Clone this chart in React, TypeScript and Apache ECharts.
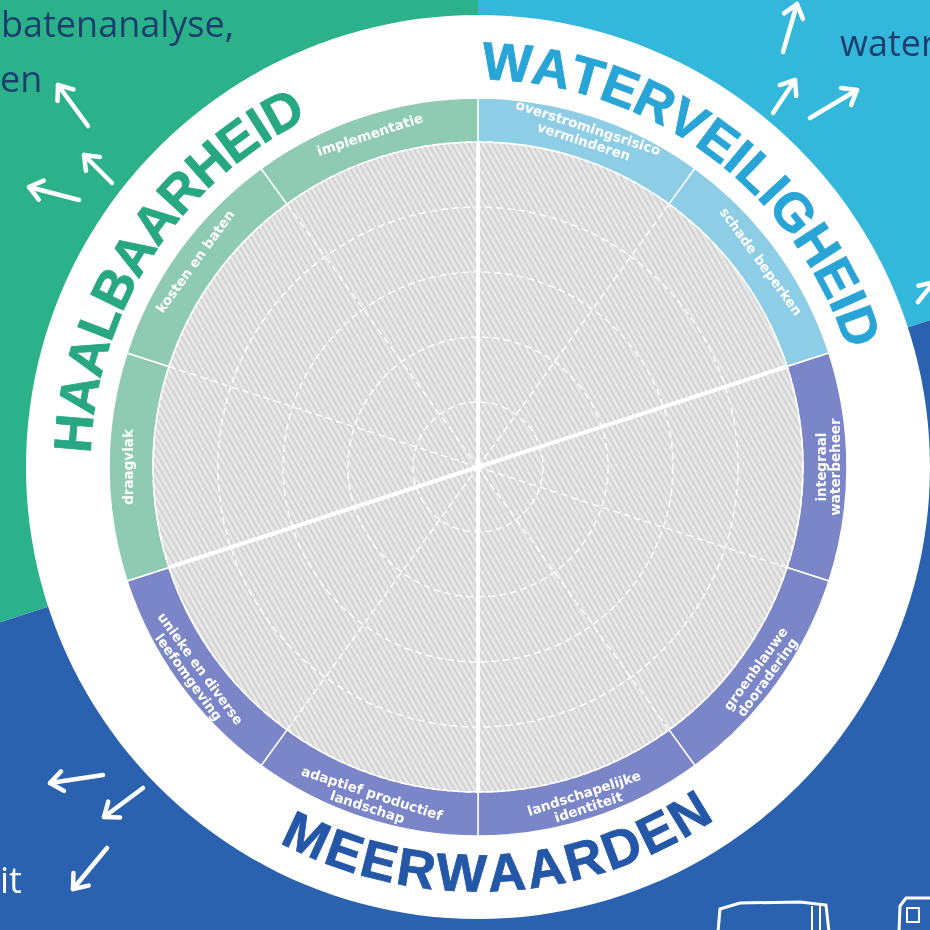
import React, { useEffect, useRef } from 'react';
import * as echarts from 'echarts';

// ---------- data ----------
const themeNames = ['Waterveiligheid', 'Meerwaarden', 'Haalbaarheid'];
const themeSegmentCounts = [2, 5, 3];
const themeTitles = ['WATERVEILIGHEID', 'MEERWAARDEN', 'HAALBAARHEID'];

const segmentLabels = [
  'overstromingsrisico\nverminderen',
  'schade beperken',
  'integraal\nwaterbeheer',
  'groenblauwe\ndooradering',
  'landschapelijke\nidentiteit',
  'adaptief productief\nlandschap',
  'unieke en diverse\nleefomgeving',
  'draagvlak',
  'kosten en baten',
  'implementatie',
];
const segmentThemes = [0, 0, 1, 1, 1, 1, 1, 2, 2, 2];
const segmentValues = [1, 1, 1, 1, 1, 1, 1, 1, 1, 1];
const gridMax = 5;

const sideTexts = ['batenanalyse,', 'en', 'water', 'it'];

// ---------- layout / style ----------
const CX = 478;
const CY = 467;
const R_WHITE = 452;
const R_RING_IN = 325;
const R_RING_OUT = 369;
const bgColors = ['#33b8dc', '#2a62b0', '#2cb28a'];
const ringColors = ['#8dcde6', '#7a86c7', '#8fcab2'];
const titleColors = ['#28a5d6', '#2457a8', '#27a883'];
const titleMidAngles = [53.5, -87, 147];
const titleRadius = 406;
const titleFontSize = 53;

const arrows = [
  [58, 85, 88, 126],
  [84, 155, 112, 183],
  [29, 187, 79, 200],
  [797, 4, 783, 52],
  [795, 80, 773, 113],
  [857, 90, 810, 118],
  [934, 282, 918, 302],
  [50, 783, 103, 775],
  [104, 817, 143, 788],
  [73, 889, 107, 848],
];

function arcTitle(text: string, midDeg: number, r: number, color: string, outward: boolean) {
  const canvas = document.createElement('canvas');
  const ctx = canvas.getContext('2d')!;
  ctx.font = `bold ${titleFontSize}px "Liberation Sans"`;
  const spacing = 1;
  const chars = Array.from(text);
  const widths = chars.map((c) => ctx.measureText(c).width + spacing);
  const total = widths.reduce((a, b) => a + b, 0);
  const totalAng = total / r;
  const mid = (midDeg * Math.PI) / 180;
  let acc = 0;
  return chars.map((ch, i) => {
    const center = acc + widths[i] / 2;
    acc += widths[i];
    const off = center / r - totalAng / 2;
    const phi = outward ? mid - off : mid + off;
    const x = CX + r * Math.cos(phi);
    const y = CY - r * Math.sin(phi);
    const rot = outward ? phi - Math.PI / 2 : phi + Math.PI / 2;
    return {
      type: 'text',
      x,
      y,
      rotation: rot,
      z: 20,
      silent: true,
      style: {
        text: ch,
        fill: color,
        stroke: color,
        lineWidth: 0.8,
        fontSize: titleFontSize,
        fontWeight: 'bold',
        fontFamily: '"Liberation Sans", Arial, sans-serif',
        align: 'center',
        verticalAlign: 'middle',
      },
    };
  });
}

function arrowEls(a: number[]) {
  const [tx, ty, sx, sy] = a;
  const dx = tx - sx;
  const dy = ty - sy;
  const len = Math.hypot(dx, dy);
  const ux = dx / len;
  const uy = dy / len;
  const head = 16;
  const ang = (38 * Math.PI) / 180;
  const rotv = (t: number) => [ux * Math.cos(t) - uy * Math.sin(t), ux * Math.sin(t) + uy * Math.cos(t)];
  const [ax, ay] = rotv(ang);
  const [bx, by] = rotv(-ang);
  const st = { stroke: '#ffffff', lineWidth: 4.5, lineCap: 'round', lineJoin: 'round', fill: null };
  return [
    { type: 'line', z: 20, silent: true, shape: { x1: sx, y1: sy, x2: tx, y2: ty }, style: st },
    {
      type: 'polyline',
      z: 20,
      silent: true,
      shape: { points: [[tx - ax * head, ty - ay * head], [tx, ty], [tx - bx * head, ty - by * head]] },
      style: st,
    },
  ];
}

export default function App() {
  const ref = useRef<HTMLDivElement>(null);

  useEffect(() => {
    if (!ref.current) return;
    const chart = echarts.init(ref.current, undefined, { renderer: 'svg' });

    const segAngle = 360 / segmentValues.length;
    const ringData = segmentLabels.map((name, i) => {
      const phi = 90 - segAngle * (i + 0.5);
      let rot = segmentThemes[i] === 1 ? phi + 90 : phi - 90;
      while (rot > 180) rot -= 360;
      while (rot <= -180) rot += 360;
      return {
        name,
        value: segmentValues[i],
        itemStyle: { color: ringColors[segmentThemes[i]] },
        label: { rotate: rot },
      };
    });

    // theme boundaries in angle-axis units (clockwise from top)
    const bounds: number[] = [0];
    themeSegmentCounts.forEach((c, i) => bounds.push(bounds[i] + c * segAngle));
    const rOut = R_RING_OUT / (R_RING_IN / gridMax);
    const dividerLines = [
      [[rOut, bounds[0]], [0, 0], [gridMax, bounds[0] + 180]],
      [[rOut, bounds[1]], [0, 0], [rOut, bounds[1] + 180]],
    ];

    const textStyleBase = {
      fontFamily: '"Open Sans", "Noto Sans", sans-serif',
      fontSize: 36,
    };

    const graphics: any[] = [
      { type: 'text', x: 1, y: 5, z: 20, silent: true, style: { ...textStyleBase, text: sideTexts[0], fill: '#1c3f6e', verticalAlign: 'top' } },
      { type: 'text', x: 0, y: 60, z: 20, silent: true, style: { ...textStyleBase, text: sideTexts[1], fill: '#1c3f6e', verticalAlign: 'top' } },
      { type: 'text', x: 840, y: 24, z: 20, silent: true, style: { ...textStyleBase, text: sideTexts[2], fill: '#1c3f6e', verticalAlign: 'top' } },
      { type: 'text', x: 0, y: 861, z: 20, silent: true, style: { ...textStyleBase, text: sideTexts[3], fill: '#ffffff', verticalAlign: 'top' } },
      ...arrows.flatMap(arrowEls),
      {
        type: 'polyline',
        z: 20,
        silent: true,
        shape: { points: [[718, 932], [720, 909], [740, 903], [800, 902], [826, 905], [829, 932]] },
        style: { stroke: '#fff', lineWidth: 3, fill: null },
      },
      { type: 'line', z: 20, silent: true, shape: { x1: 812, y1: 906, x2: 812, y2: 932 }, style: { stroke: '#fff', lineWidth: 2 } },
      { type: 'line', z: 20, silent: true, shape: { x1: 820, y1: 906, x2: 820, y2: 932 }, style: { stroke: '#fff', lineWidth: 2 } },
      {
        type: 'polyline',
        z: 20,
        silent: true,
        shape: { points: [[899, 932], [900, 906], [906, 898], [932, 898]] },
        style: { stroke: '#fff', lineWidth: 3, fill: null },
      },
      { type: 'rect', z: 20, silent: true, shape: { x: 907, y: 908, width: 12, height: 14 }, style: { stroke: '#fff', lineWidth: 2, fill: null } },
    ];
    themeTitles.forEach((t, i) => {
      graphics.push(...arcTitle(t, titleMidAngles[i], titleRadius, titleColors[i], i !== 1));
    });

    const gridLine = { show: true, lineStyle: { color: 'rgba(255,255,255,0.9)', width: 1.5, type: [7, 4] } };

    const option: any = {
      animation: false,
      polar: { center: [CX, CY], radius: R_RING_IN },
      angleAxis: {
        type: 'value',
        min: 0,
        max: 360,
        interval: segAngle,
        startAngle: 90,
        clockwise: true,
        axisLine: { show: false },
        axisTick: { show: false },
        axisLabel: { show: false },
        splitLine: gridLine,
        z: 5,
      },
      radiusAxis: {
        type: 'value',
        min: 0,
        max: gridMax,
        interval: 1,
        axisLine: { show: false },
        axisTick: { show: false },
        axisLabel: { show: false },
        splitLine: gridLine,
        z: 5,
      },
      series: [
        {
          type: 'pie',
          silent: true,
          z: 1,
          center: [CX, CY],
          radius: [0, 720],
          startAngle: 90,
          label: { show: false },
          labelLine: { show: false },
          data: themeNames.map((n, i) => ({ name: n, value: themeSegmentCounts[i], itemStyle: { color: bgColors[i] } })),
        },
        {
          type: 'pie',
          silent: true,
          z: 2,
          center: [CX, CY],
          radius: [0, R_WHITE],
          label: { show: false },
          labelLine: { show: false },
          data: [{ name: 'wit', value: 1, itemStyle: { color: '#ffffff' } }],
        },
        {
          type: 'pie',
          silent: true,
          z: 3,
          center: [CX, CY],
          radius: [0, R_RING_IN],
          label: { show: false },
          labelLine: { show: false },
          data: [
            {
              name: 'schijf',
              value: 1,
              itemStyle: {
                color: '#e7e7e7',
                decal: {
                  symbol: 'rect',
                  symbolSize: 1,
                  color: 'rgba(190,190,190,0.5)',
                  dashArrayX: [1, 0],
                  dashArrayY: [1.5, 2.5],
                  rotation: Math.PI / 3,
                },
              },
            },
          ],
        },
        {
          type: 'pie',
          silent: true,
          z: 4,
          center: [CX, CY],
          radius: [R_RING_IN, R_RING_OUT],
          startAngle: 90,
          itemStyle: { borderColor: '#ffffff', borderWidth: 1.5 },
          label: {
            show: true,
            position: 'inside',
            color: '#ffffff',
            fontFamily: '"DejaVu Sans", sans-serif',
            fontWeight: 'bold',
            fontSize: 13.5,
            lineHeight: 14.5,
            align: 'center',
          },
          labelLine: { show: false },
          data: ringData,
        },
        {
          type: 'line',
          coordinateSystem: 'polar',
          silent: true,
          clip: false,
          symbol: 'none',
          z: 6,
          lineStyle: { color: '#ffffff', width: 4 },
          data: dividerLines[0],
        },
        {
          type: 'line',
          coordinateSystem: 'polar',
          silent: true,
          clip: false,
          symbol: 'none',
          z: 6,
          lineStyle: { color: '#ffffff', width: 4 },
          data: dividerLines[1],
        },
      ],
      graphic: graphics,
    };

    chart.setOption(option);
    return () => chart.dispose();
  }, []);

  return (
    <div
      ref={ref}
      style={{ position: 'fixed', left: 0, top: 0, width: 930, height: 930, overflow: 'hidden' }}
    />
  );
}
